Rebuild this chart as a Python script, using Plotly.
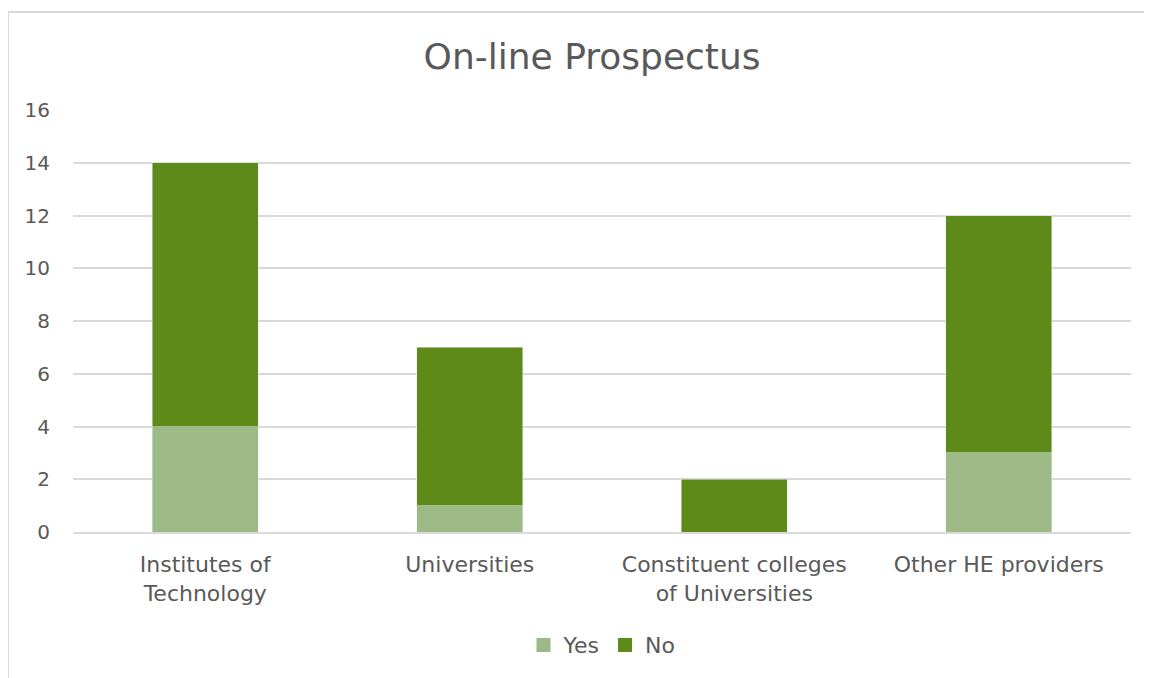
import plotly.graph_objects as go

# chart data
categories = ["Institutes of<br>Technology", "Universities",
              "Constituent colleges<br>of Universities", "Other HE providers"]
yes_vals = [4, 1, 0, 3]
no_vals = [10, 6, 2, 9]

font_family = "DejaVu Sans, sans-serif"
grey_text = "#595959"
yes_col = "#9DBA86"
no_col = "#5E8A1A"

fig = go.Figure()
fig.add_trace(go.Bar(x=categories, y=yes_vals, name="Yes", marker_color=yes_col,
                     showlegend=False))
fig.add_trace(go.Bar(x=categories, y=no_vals, name="No", marker_color=no_col,
                     showlegend=False))
# legend entries with larger square swatches
for nm, col in [("Yes", yes_col), ("No", no_col)]:
    fig.add_trace(go.Scatter(x=[None], y=[None], mode="markers", name=nm,
                             marker=dict(symbol="square", size=14, color=col)))

fig.update_layout(
    barmode="stack",
    bargap=0.6,
    width=1152, height=678,
    margin=dict(l=65, r=29, t=102, b=154),
    paper_bgcolor="white", plot_bgcolor="white",
    font=dict(family=font_family, color=grey_text, size=20),
    title=dict(text="On-line Prospectus", x=0.507, xanchor="center",
               y=0.928, yanchor="middle",
               font=dict(size=36, color=grey_text, family=font_family)),
    legend=dict(orientation="h", x=0.5, xanchor="center", y=-0.268, yanchor="middle",
                font=dict(size=22, color=grey_text), traceorder="normal",
                itemwidth=30),
    showlegend=True,
)
fig.update_yaxes(range=[0, 16], dtick=2, showgrid=True, gridcolor="#D9D9D9", gridwidth=1.5,
                 zeroline=False, showline=False, ticks="", ticklabelstandoff=22,
                 tickfont=dict(size=20, color=grey_text))
fig.update_xaxes(showline=True, linecolor="#D9D9D9", linewidth=1.5, ticks="",
                 ticklabelstandoff=12, tickfont=dict(size=22, color=grey_text))

# light grey chart-area border
fig.add_shape(type="rect", xref="paper", yref="paper",
              x0=-0.0614, x1=1.2, y0=-0.6, y1=1.232,
              line=dict(color="#D9D9D9", width=2), layer="below")

fig.write_html("out.html")
